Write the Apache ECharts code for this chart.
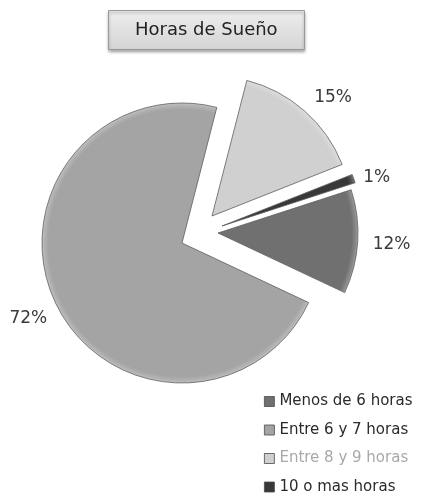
<!DOCTYPE html>
<html>
<head>
<meta charset="utf-8">
<script src="https://cdn.jsdelivr.net/npm/echarts@6/dist/echarts.min.js"></script>
<style>
html,body{margin:0;padding:0;background:#fff;}
#chart{width:422px;height:497px;}
</style>
</head>
<body>
<div id="chart"></div>
<script>
var titleText = 'Horas de Sueño';
var categories = ['Menos de 6 horas', 'Entre 6 y 7 horas', 'Entre 8 y 9 horas', '10 o mas horas'];
var values = [12, 72, 15, 1];

// layout / style settings (not data)
var pieCenter = [182, 243];
var pieRadius = 140;
var firstSliceAngle = 18;
var explodeOffsets = [[36, -10], [0, 0], [30, -27], [40, -17]];
var labelShift = [[-2, 2], [8, 12], [-4, -6], [-7, 2]];
var sliceColors = ['#707070', '#a4a4a4', '#d0d0d0', '#383838'];
var legendTextColors = ['#2a2a2a', '#2a2a2a', '#a8a8a8', '#2a2a2a'];

var chart = echarts.init(document.getElementById('chart'), null, {renderer: 'canvas'});

var total = values.reduce(function (a, b) { return a + b; }, 0);

function rimGradient(c, cx, cy) {
  return {
    type: 'radial', x: cx, y: cy, r: pieRadius, global: true,
    colorStops: [
      {offset: 0, color: c},
      {offset: 0.955, color: c},
      {offset: 0.985, color: echarts.color.lift(c, 0.18)},
      {offset: 1, color: echarts.color.lift(c, 0.35)}
    ]
  };
}

var series = [];
var cum = 0;
categories.forEach(function (name, i) {
  var cx = pieCenter[0] + explodeOffsets[i][0];
  var cy = pieCenter[1] + explodeOffsets[i][1];
  var start = firstSliceAngle - 360 * cum / total;
  cum += values[i];
  var shift = labelShift[i];
  series.push({
    type: 'pie',
    name: name,
    center: [cx, cy],
    radius: pieRadius,
    startAngle: start,
    clockwise: true,
    avoidLabelOverlap: false,
    emphasis: {disabled: true},
    labelLayout: {dx: shift[0], dy: shift[1]},
    label: {
      show: true,
      position: 'outside',
      formatter: function (p) { return Math.round(p.value / total * 100) + '%'; },
      fontFamily: 'DejaVu Sans',
      fontSize: 17,
      color: '#3a3a3a'
    },
    labelLine: {show: false, length: 10, length2: 2},
    data: [
      {
        name: name,
        value: values[i],
        itemStyle: {
          color: rimGradient(sliceColors[i], cx, cy),
          borderColor: '#5e5e5e',
          borderWidth: 0.8
        }
      },
      {
        name: '__rest' + i,
        value: total - values[i],
        itemStyle: {color: 'rgba(0,0,0,0)', borderWidth: 0},
        label: {show: false},
        silent: true
      }
    ]
  });
});

chart.setOption({
  animation: false,
  backgroundColor: '#ffffff',
  title: {
    text: titleText,
    left: 108,
    top: 10,
    padding: [11, 27],
    backgroundColor: {
      type: 'linear', x: 0, y: 0, x2: 0, y2: 1,
      colorStops: [{offset: 0, color: '#eeeeee'}, {offset: 1, color: '#d4d4d4'}]
    },
    borderColor: '#9a9a9a',
    borderWidth: 1,
    shadowColor: 'rgba(0,0,0,0.35)',
    shadowBlur: 3,
    shadowOffsetY: 2,
    textStyle: {
      fontFamily: 'DejaVu Sans',
      fontSize: 18,
      fontWeight: 'normal',
      color: '#222222',
      lineHeight: 18
    }
  },
  legend: {
    orient: 'vertical',
    left: 264,
    top: 394,
    padding: 0,
    icon: 'rect',
    itemWidth: 10,
    itemHeight: 10,
    itemGap: 13.5,
    selectedMode: false,
    itemStyle: {borderColor: '#4a4a4a', borderWidth: 0.8},
    textStyle: {fontFamily: 'DejaVu Sans', fontSize: 15, color: '#2a2a2a', lineHeight: 15},
    data: categories.map(function (name, i) {
      return {name: name, itemStyle: {color: sliceColors[i]}, textStyle: {color: legendTextColors[i]}};
    })
  },
  series: series
});
</script>
</body>
</html>
